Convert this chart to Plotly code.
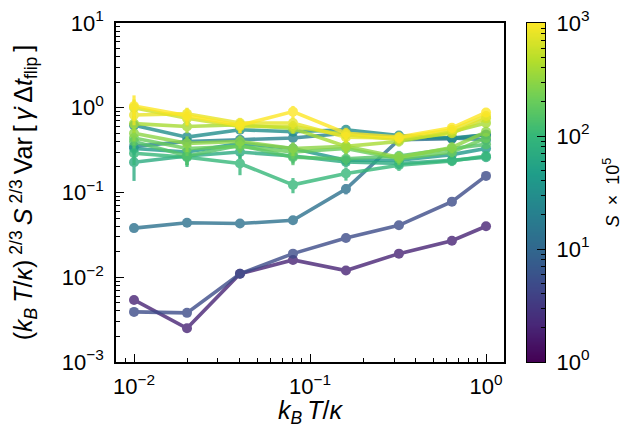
import numpy as np
import plotly.graph_objects as go
from plotly.colors import sample_colorscale

# ---------------- data ----------------
kT = [0.01, 0.02, 0.04, 0.08, 0.16, 0.32, 0.64, 1.0]

S_values = [2, 5, 13, 22, 30, 40, 70, 100, 150, 200, 300, 400, 600, 800, 1000]

y_S2 = [0.0054, 0.0025, 0.011, 0.016, 0.012, 0.019, 0.027, 0.040]
y_S5 = [0.0039, 0.0038, 0.011, 0.019, 0.029, 0.041, 0.078, 0.157]
y_S13 = [0.038, 0.044, 0.043, 0.047, 0.11, 0.42, 0.43, 0.48]
y_S22 = [0.35, 0.40, 0.42, 0.44, 0.50, 0.44, 0.44, 0.42]
y_S30 = [0.62, 0.45, 0.55, 0.52, 0.55, 0.47, 0.44, 0.48]
y_S40 = [0.33, 0.30, 0.38, 0.33, 0.24, 0.24, 0.28, 0.33]
y_S70 = [0.227, 0.27, 0.30, 0.27, 0.23, 0.22, 0.24, 0.26]
y_S100 = [0.29, 0.26, 0.22, 0.123, 0.168, 0.21, 0.235, 0.27]
y_S150 = [0.40, 0.27, 0.36, 0.26, 0.25, 0.27, 0.33, 0.37]
y_S200 = [0.44, 0.33, 0.35, 0.30, 0.33, 0.25, 0.30, 0.44]
y_S300 = [0.50, 0.38, 0.40, 0.33, 0.35, 0.26, 0.34, 0.52]
y_S400 = [0.65, 0.60, 0.63, 0.57, 0.35, 0.40, 0.52, 0.66]
y_S600 = [1.00, 0.75, 0.60, 0.60, 0.48, 0.42, 0.50, 0.75]
y_S800 = [0.82, 0.85, 0.66, 0.66, 0.45, 0.44, 0.55, 0.80]
y_S1000 = [1.05, 0.80, 0.62, 0.90, 0.50, 0.45, 0.58, 0.88]

e_S2 = [0.0003, 0.0002, 0.0005, 0.0008, 0.0006, 0.0008, 0.0012, 0.0018]
e_S5 = [0.0002, 0.0002, 0.0005, 0.0009, 0.0012, 0.0018, 0.004, 0.008]
e_S13 = [0.002, 0.002, 0.002, 0.003, 0.015, 0.05, 0.04, 0.04]
e_S22 = [0.05, 0.04, 0.04, 0.04, 0.05, 0.04, 0.04, 0.04]
e_S30 = [0.08, 0.05, 0.05, 0.05, 0.06, 0.05, 0.04, 0.05]
e_S40 = [0.05, 0.05, 0.05, 0.05, 0.03, 0.03, 0.03, 0.03]
e_S70 = [0.09, 0.06, 0.05, 0.05, 0.03, 0.03, 0.03, 0.03]
e_S100 = [0.08, 0.06, 0.06, 0.025, 0.03, 0.03, 0.03, 0.03]
e_S150 = [0.07, 0.06, 0.06, 0.05, 0.04, 0.04, 0.04, 0.04]
e_S200 = [0.08, 0.06, 0.06, 0.05, 0.05, 0.04, 0.04, 0.05]
e_S300 = [0.10, 0.08, 0.07, 0.06, 0.06, 0.04, 0.05, 0.06]
e_S400 = [0.15, 0.10, 0.09, 0.08, 0.06, 0.05, 0.06, 0.07]
e_S600 = [0.25, 0.15, 0.10, 0.10, 0.08, 0.06, 0.06, 0.08]
e_S800 = [0.20, 0.15, 0.10, 0.10, 0.07, 0.06, 0.06, 0.08]
e_S1000 = [0.35, 0.18, 0.12, 0.15, 0.08, 0.07, 0.07, 0.10]

x_ticks = [0.01, 0.1, 1.0]
x_tick_labels = ["10<sup>−2</sup>", "10<sup>−1</sup>", "10<sup>0</sup>"]
y_ticks = [1e-3, 1e-2, 1e-1, 1, 10]
y_tick_labels = ["10<sup>−3</sup>", "10<sup>−2</sup>", "10<sup>−1</sup>", "10<sup>0</sup>", "10<sup>1</sup>"]
cb_ticks = [1, 10, 100, 1000]
cb_tick_labels = ["10<sup>0</sup>", "10<sup>1</sup>", "10<sup>2</sup>", "10<sup>3</sup>"]

series_y = [y_S2, y_S5, y_S13, y_S22, y_S30, y_S40, y_S70, y_S100, y_S150,
            y_S200, y_S300, y_S400, y_S600, y_S800, y_S1000]
series_e = [e_S2, e_S5, e_S13, e_S22, e_S30, e_S40, e_S70, e_S100, e_S150,
            e_S200, e_S300, e_S400, e_S600, e_S800, e_S1000]


def log_minor(lo_exp, hi_exp):
    return [m * 10.0 ** k for k in range(lo_exp, hi_exp) for m in range(2, 10)]


# ---------------- figure ----------------
W, H = 631, 428
L, R, T, B = 116, 86, 23, 66
plot_w = W - L - R  # 429
main_right = (504 - L) / plot_w
cb_left = (527 - L) / plot_w

FONT = "Liberation Sans, Arial, Helvetica, sans-serif"
TS = "\u2009"  # thin space, mimics mathtext spacing

y_title = (f"(<i>k</i><sub><i>B</i></sub>{TS}<i>T</i>/<i>κ</i>){TS}<sup>2/3</sup>{TS}"
           f"<i>S</i>{TS}<sup>2/3</sup>{TS}Var{TS}[{TS}<i>γ̇</i>{TS}Δ<i>t</i><sub>flip</sub>{TS}]")
x_title = f"<i>k</i><sub><i>B</i></sub>{TS}<i>T</i>/<i>κ</i>"
cb_title = "<i>S</i>  ×  10<sup>5</sup>"

fig = go.Figure()

for S, ys, es in zip(S_values, series_y, series_e):
    col = sample_colorscale("Viridis", [np.log10(S) / 3.0])[0]
    fig.add_trace(go.Scatter(
        x=kT, y=ys, mode="lines+markers",
        line=dict(color=col, width=3.6),
        marker=dict(color=col, size=10),
        error_y=dict(type="data", array=es, color=col, thickness=3.2, width=0),
        opacity=0.8, showlegend=False, hoverinfo="skip",
        xaxis="x", yaxis="y",
    ))

# colorbar drawn as a heatmap on its own log axis
cb_y = np.logspace(0, 3, 300)
fig.add_trace(go.Heatmap(
    x=[0, 1], y=cb_y, z=np.log10(cb_y)[:, None] * np.ones((1, 2)),
    colorscale="Viridis", zmin=0, zmax=3, showscale=False,
    xaxis="x2", yaxis="y2", hoverinfo="skip",
))

axis_common = dict(
    showline=True, linecolor="black", linewidth=1.5, mirror=True,
    ticks="inside", ticklen=8, tickwidth=1.2, tickcolor="black",
    showgrid=False, zeroline=False, automargin=False,
    tickfont=dict(family=FONT, size=22, color="black"),
)

fig.update_layout(
    width=W, height=H,
    margin=dict(l=L, r=R, t=T, b=B),
    paper_bgcolor="white", plot_bgcolor="white",
    font=dict(family=FONT, color="black"),
    xaxis=dict(
        type="log", domain=[0, main_right],
        range=[np.log10(0.0079), np.log10(1.265)],
        tickvals=x_ticks, ticktext=x_tick_labels,
        minor=dict(ticks="inside", ticklen=4, tickwidth=1, tickcolor="black",
                   showgrid=False, tickmode="array", tickvals=log_minor(-3, 1)),
        title=dict(text=x_title, font=dict(family=FONT, size=25), standoff=0),
        ticklabelstandoff=4,
        **axis_common,
    ),
    yaxis=dict(
        type="log", range=[-3, 1],
        tickvals=y_ticks, ticktext=y_tick_labels,
        minor=dict(ticks="inside", ticklen=4, tickwidth=1, tickcolor="black",
                   showgrid=False, tickmode="array", tickvals=log_minor(-3, 1)),
        title=dict(text=y_title, font=dict(family=FONT, size=25), standoff=22),
        ticklabelstandoff=6,
        **axis_common,
    ),
    xaxis2=dict(
        domain=[cb_left, 1], range=[0, 1], anchor="y2",
        showline=True, linecolor="black", linewidth=1.2, mirror=True,
        showticklabels=False, ticks="", showgrid=False, zeroline=False,
        automargin=False,
    ),
    yaxis2=dict(
        type="log", range=[0, 3], anchor="x2", side="right",
        tickvals=cb_ticks, ticktext=cb_tick_labels,
        showline=True, linecolor="black", linewidth=1.2, mirror=True,
        ticks="inside", ticklen=8, tickwidth=1, tickcolor="black",
        minor=dict(ticks="inside", ticklen=4, tickwidth=1, tickcolor="black",
                   showgrid=False, tickmode="array", tickvals=log_minor(0, 3)),
        showgrid=False, zeroline=False, automargin=False,
        tickfont=dict(family=FONT, size=22, color="black"),
        ticklabelstandoff=6,
        title=dict(text=cb_title, font=dict(family=FONT, size=18), standoff=17),
    ),
)

fig.write_html("out.html", config={"displayModeBar": False},
               post_script="document.body.style.margin='0px';")
